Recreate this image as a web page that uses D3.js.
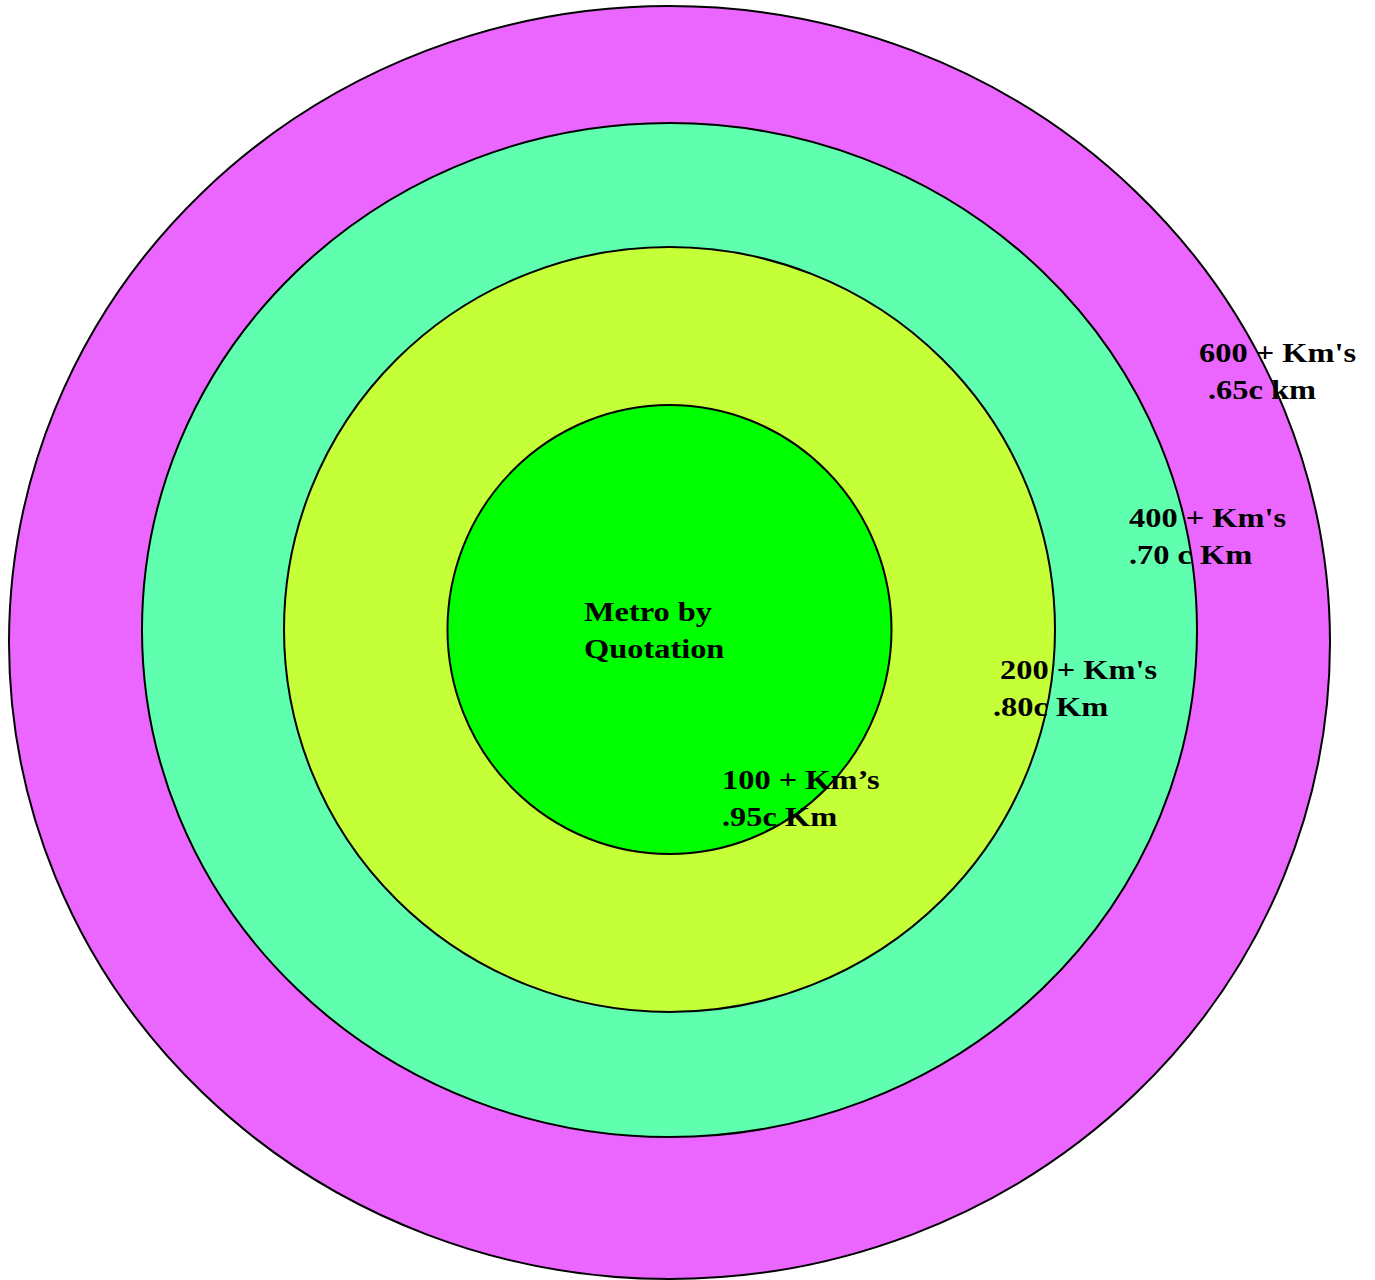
<!DOCTYPE html>
<html>
<head>
<meta charset="utf-8">
<script src="https://cdn.jsdelivr.net/npm/d3@7"></script>
<style>
  body { margin: 0; background: #fff; }
</style>
</head>
<body>
<div id="chart"></div>
<script>
// rings from outside in
var tiers = ["600", "400", "200", "100"];
var distances = ["600 + Km's", "400 + Km's", "200 + Km's", "100 + Km\u2019s"];
var rates = [".65c km", ".70 c Km", ".80c Km", ".95c Km"];
var centreLabel = ["Metro by", "Quotation"];

w = 1375;
h = 1280;

var svg = d3.select("#chart")
  .append("svg")
  .attr("width", w)
  .attr("height", h);

// ellipse sizes per tier
var rx = d3.scaleOrdinal().domain(tiers).range([660.5, 527.5, 385.5, 222]);
var ry = d3.scaleOrdinal().domain(tiers).range([636.5, 507, 382.5, 224.5]);
var cy = d3.scaleOrdinal().domain(tiers).range([642.5, 630, 629.5, 629.5]);
var fill = d3.scaleOrdinal().domain(tiers)
  .range(["#ea66ff", "#60ffb0", "#c4ff38", "#00ff00"]);
var cx = 669.5;

svg.selectAll("ellipse")
  .data(tiers)
  .enter().append("ellipse")
  .attr("cx", cx)
  .attr("cy", function(d) { return cy(d); })
  .attr("rx", function(d) { return rx(d); })
  .attr("ry", function(d) { return ry(d); })
  .attr("fill", function(d) { return fill(d); })
  .attr("stroke", "#000")
  .attr("stroke-width", 2);

// label anchors (first line x, second line x, first baseline)
var labelPos = {
  "600": [1199, 1208, 362],
  "400": [1129, 1129, 527],
  "200": [1000, 993, 679],
  "100": [722, 722, 789]
};
var lineGap = 36.5;
var stretch = 1.2;  // text in the picture is wider than plain Times

function place(x, y) {
  return "translate(" + x + "," + y + ") scale(" + stretch + ",1)";
}

var labels = svg.selectAll("g.label")
  .data(tiers)
  .enter().append("g")
  .attr("class", "label")
  .attr("font-family", "'Liberation Serif', 'Times New Roman', serif")
  .attr("font-weight", "bold")
  .attr("font-size", "27px")
  .attr("fill", "#000");

labels.append("text")
  .attr("transform", function(d) { return place(labelPos[d][0], labelPos[d][2]); })
  .text(function(d, i) { return distances[i]; });

labels.append("text")
  .attr("transform", function(d) { return place(labelPos[d][1], labelPos[d][2] + lineGap); })
  .text(function(d, i) { return rates[i]; });

svg.append("g")
  .attr("font-family", "'Liberation Serif', 'Times New Roman', serif")
  .attr("font-weight", "bold")
  .attr("font-size", "27px")
  .selectAll("text")
  .data(centreLabel)
  .enter().append("text")
  .attr("transform", function(d, i) { return place(584, 621 + i * lineGap); })
  .text(function(d) { return d; });
</script>
</body>
</html>
